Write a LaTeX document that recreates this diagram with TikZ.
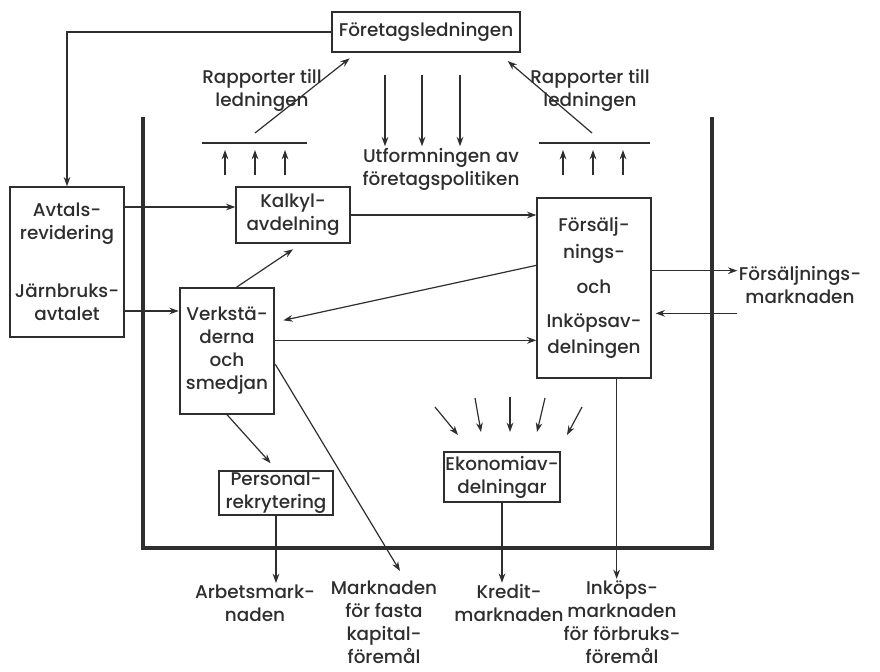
\documentclass[tikz,border=0pt]{standalone}
\usepackage{fontspec}
\setmainfont{Poppins}[UprightFont=* Medium]
\usepackage{tikz}
\usetikzlibrary{calc,arrows.meta}
\definecolor{print}{HTML}{2E2E2E}
\tikzset{
  box/.style={draw=print, line width=1.5pt, align=center, inner sep=1pt},
  lab/.style={align=center, inner sep=1pt},
  arr/.style={draw=print, line width=0.9pt, -{Stealth[length=7pt,width=5pt]}},
  frame/.style={draw=print, line width=3pt},
  bar/.style={draw=print, line width=1pt},
  every node/.style={text=print, font=\fontsize{13.8}{17.25}\selectfont}
}

\begin{document}
\begin{tikzpicture}[x=0.75pt,y=-0.75pt]
  \useasboundingbox (0,0) rectangle (880,671);

  % the firm
  \draw[frame] (143,117) |- (712,548) -- (712,117);

  % boxes
  \node[box, minimum width=141pt, minimum height=30pt] (led) at (426,32) {Företagsledningen};
  \node[box, minimum width=86pt, minimum height=112pt] (avt) at (67,262)
    {Avtals-\\revidering\\[26pt]Järnbruks-\\avtalet};
  \node[box, minimum width=85pt, minimum height=42pt] (kal) at (293,215) {Kalkyl-\\avdelning};
  \node[box, minimum width=85pt, minimum height=135pt] (fin) at (594,288)
    {Försälj-\\[3pt]nings-\\[9pt]och\\[8pt]Inköpsav-\\[2pt]delningen};
  \node[box, minimum width=71pt, minimum height=94pt] (ver) at (227,351) {Verkstä-\\derna\\och\\smedjan};
  \node[box, minimum width=86pt, minimum height=32pt] (per) at (276,493) {Personal-\\rekrytering};
  \node[box, minimum width=80pt, minimum height=37pt] (eko) at (502,477) {Ekonomiav-\\delningar};

  % labels
  \node[lab] (rapv) at (262,90) {Rapporter till\\ledningen};
  \node[lab] (raph) at (590,90) {Rapporter till\\ledningen};
  \node[lab] (utf) at (441,169) {Utformningen av\\företagspolitiken};
  \node[lab] (fmk) at (800,285) {Försäljnings-\\marknaden};
  \node[lab] (arb) at (255,603) {Arbetsmark-\\naden};
  \node[lab] (mkf) at (384,622) {Marknaden\\för fasta\\kapital-\\föremål};
  \node[lab] (kre) at (509,603) {Kredit-\\marknaden};
  \node[lab] (ink) at (622,622) {Inköps-\\marknaden\\för förbruks-\\föremål};

  % reports up to the management
  \draw[bar] (202,143) -- (307,143);
  \draw[bar] (539,143) -- (650,143);
  \foreach \x in {225,255,285,563,593,623}
    \draw[arr] (\x,175) -- (\x,150);
  \coordinate (rv) at (255,133);
  \coordinate (rh) at (592,133);
  \draw[arr] (rv) -- ([shift={(14pt,-4pt)}]led.south west);
  \draw[arr] (rh) -- ([shift={(-10pt,-6pt)}]led.south east);
  \foreach \x in {385,422,460}
    \draw[arr] (\x,75) -- (utf.north -| \x,0);

  % connectors
  \draw[arr] (led.west) -| (avt.north);
  \draw[arr] ([yshift=6pt]kal.west -| avt.east) -- ([yshift=6pt]kal.west);
  \draw[arr] (kal.east) -- (kal.east -| fin.west);
  \draw[arr] ([yshift=30pt]ver.west -| avt.east) -- ([yshift=30pt]ver.west);
  \draw[arr] ([xshift=7pt]ver.north) -- ([yshift=-4pt]kal.south);
  \draw[arr] ([yshift=17pt]fin.west) -- ([shift={(6pt,23pt)}]ver.east);
  \draw[arr] ([yshift=8pt]ver.east) -- ([yshift=8pt]ver.east -| fin.west);
  \draw[arr] ([yshift=13pt]fin.east) -- ([yshift=13pt]fin.east -| fmk.west);
  \draw[arr] ([yshift=-19pt]fin.east -| fmk.west) -- ([xshift=3pt,yshift=-19pt]fin.east);
  \draw[arr] (ver.south) -- ([xshift=-4pt,yshift=5pt]per.north);
  \draw[arr] ([yshift=-10pt]ver.east) -- ([xshift=12pt,yshift=6pt]mkf.north);
  \draw[arr] (per.south) -- (per.south |- arb.north);
  \draw[arr] (eko.south) -- (eko.south |- kre.north);
  \draw[arr] ([xshift=17pt]fin.south) -- ([xshift=17pt]fin.south |- ink.north);

  % into the economy department
  \foreach \a/\b/\c/\d in {435/407/458/435, 475/398/481/432, 510/397/510/432, 545/398/537/432, 582/407/567/435}
    \draw[arr] (\a,\b) -- (\c,\d);
\end{tikzpicture}
\end{document}
